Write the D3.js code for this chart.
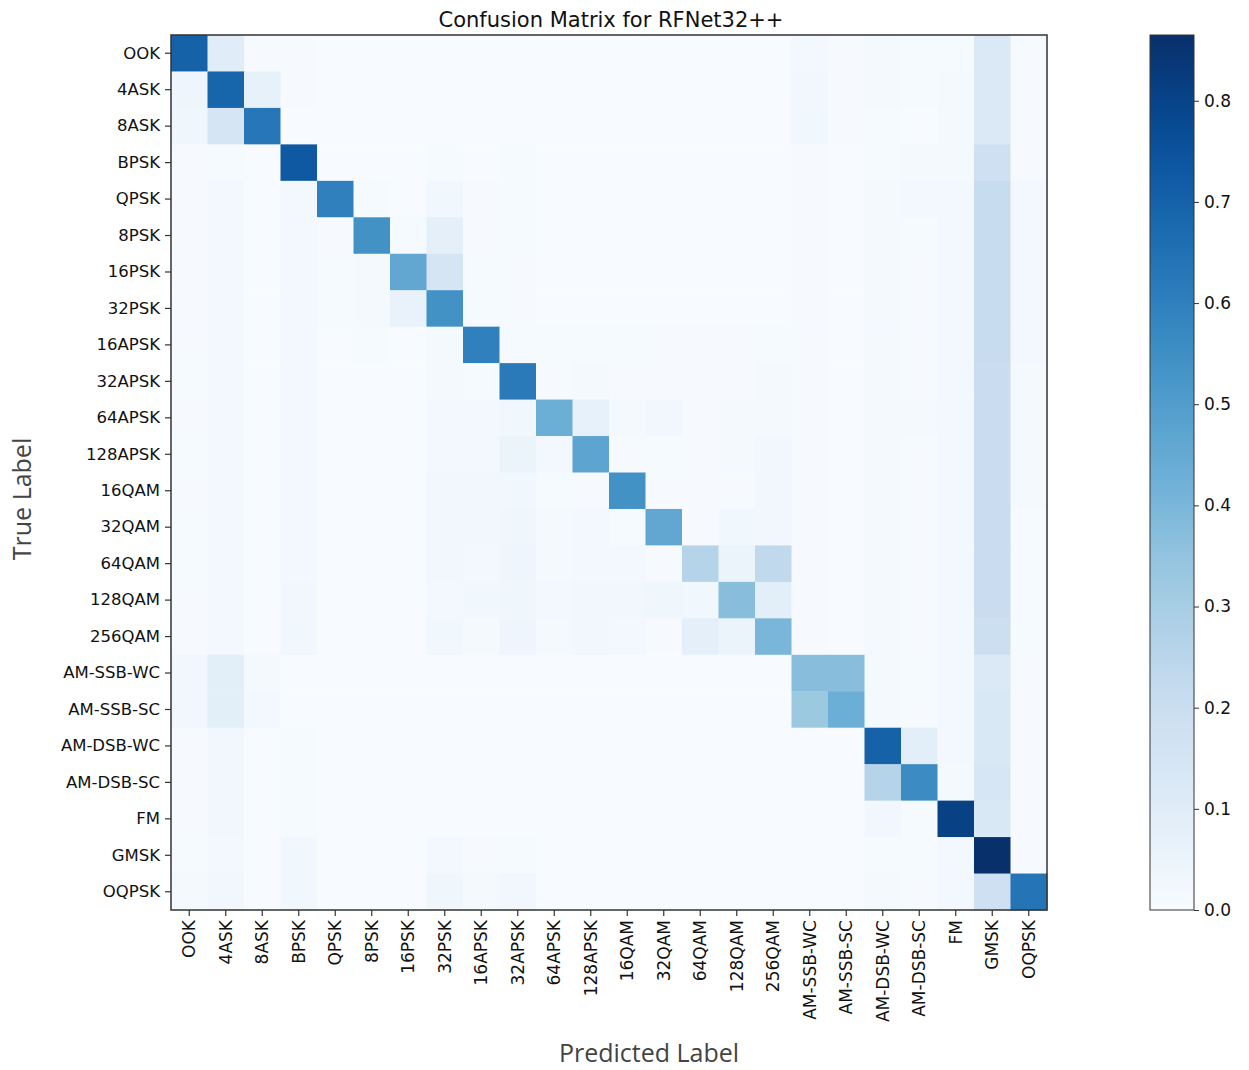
<!DOCTYPE html>
<html>
<head>
<meta charset="utf-8">
<script src="https://cdn.jsdelivr.net/npm/d3@7"></script>
<style>
  body { margin: 0; background: #fff; }
  .tick text { font-family: "DejaVu Sans", sans-serif; }
</style>
</head>
<body>
<div id="chart"></div>
<script>
// class names, same order on both axes
const labels = ['OOK', '4ASK', '8ASK', 'BPSK', 'QPSK', '8PSK', '16PSK', '32PSK', '16APSK', '32APSK',
  '64APSK', '128APSK', '16QAM', '32QAM', '64QAM', '128QAM', '256QAM', 'AM-SSB-WC', 'AM-SSB-SC',
  'AM-DSB-WC', 'AM-DSB-SC', 'FM', 'GMSK', 'OQPSK'];

// rows = true label, columns = predicted label
const matrix = [
  [0.70, 0.10, 0.005, 0.005, 0, 0, 0, 0, 0, 0, 0, 0, 0, 0, 0, 0, 0, 0.02, 0.005, 0.015, 0.01, 0.01, 0.12, 0.005],
  [0.04, 0.69, 0.07, 0.005, 0, 0, 0, 0, 0, 0, 0, 0, 0, 0, 0, 0, 0, 0.025, 0.005, 0.015, 0.01, 0.015, 0.12, 0.005],
  [0.035, 0.15, 0.63, 0, 0, 0, 0, 0, 0, 0, 0, 0, 0, 0, 0, 0, 0, 0.03, 0.005, 0.01, 0, 0.015, 0.12, 0.005],
  [0.005, 0.01, 0, 0.73, 0, 0, 0, 0.01, 0, 0.01, 0, 0, 0, 0, 0, 0, 0, 0.005, 0, 0.01, 0.015, 0.015, 0.18, 0.005],
  [0.005, 0.02, 0, 0.02, 0.60, 0.01, 0, 0.03, 0.005, 0.01, 0, 0, 0, 0, 0, 0, 0, 0.005, 0, 0.015, 0.02, 0.02, 0.21, 0.02],
  [0.005, 0.02, 0, 0.02, 0.005, 0.54, 0.01, 0.08, 0.005, 0.01, 0, 0, 0, 0, 0, 0, 0, 0.005, 0, 0.015, 0.01, 0.02, 0.21, 0.02],
  [0.005, 0.02, 0, 0.02, 0.01, 0.015, 0.46, 0.15, 0.01, 0.005, 0, 0, 0, 0, 0, 0, 0, 0.005, 0, 0.015, 0.005, 0.02, 0.21, 0.02],
  [0.005, 0.02, 0, 0.02, 0.01, 0.015, 0.06, 0.54, 0.01, 0.005, 0, 0, 0, 0, 0, 0, 0, 0.005, 0, 0.015, 0.005, 0.02, 0.21, 0.02],
  [0.005, 0.02, 0, 0.02, 0, 0.01, 0, 0.015, 0.60, 0.01, 0.01, 0.01, 0.01, 0.005, 0.005, 0.005, 0.01, 0.005, 0, 0.015, 0.005, 0.02, 0.21, 0.02],
  [0.01, 0.02, 0, 0.02, 0, 0, 0, 0.015, 0.01, 0.62, 0.005, 0.015, 0.005, 0.005, 0.005, 0.005, 0.015, 0.005, 0, 0.015, 0.005, 0.02, 0.20, 0.015],
  [0.005, 0.02, 0, 0.02, 0, 0, 0, 0.02, 0.02, 0.03, 0.43, 0.07, 0.015, 0.025, 0.005, 0.015, 0.015, 0.005, 0, 0.015, 0.015, 0.02, 0.20, 0.015],
  [0.01, 0.02, 0, 0.02, 0, 0, 0, 0.02, 0.02, 0.05, 0.02, 0.47, 0.005, 0.01, 0.005, 0.015, 0.025, 0.005, 0, 0.015, 0.005, 0.02, 0.20, 0.015],
  [0.005, 0.02, 0, 0.02, 0, 0, 0, 0.025, 0.025, 0.03, 0.01, 0.005, 0.54, 0.005, 0.005, 0.005, 0.025, 0.005, 0, 0.015, 0.005, 0.02, 0.20, 0.015],
  [0.01, 0.02, 0, 0.02, 0, 0, 0, 0.025, 0.025, 0.035, 0.015, 0.02, 0.01, 0.46, 0.005, 0.03, 0.025, 0.005, 0, 0.015, 0.005, 0.02, 0.20, 0.01],
  [0.01, 0.02, 0, 0.02, 0, 0, 0, 0.025, 0.02, 0.04, 0.015, 0.02, 0.02, 0.005, 0.26, 0.05, 0.23, 0.005, 0, 0.015, 0.005, 0.02, 0.20, 0.01],
  [0.005, 0.02, 0, 0.025, 0, 0, 0, 0.02, 0.03, 0.035, 0.02, 0.025, 0.025, 0.035, 0.03, 0.37, 0.09, 0.005, 0, 0.015, 0.005, 0.02, 0.20, 0.01],
  [0.005, 0.02, 0, 0.03, 0, 0, 0, 0.03, 0.015, 0.04, 0.015, 0.025, 0.02, 0.005, 0.08, 0.05, 0.40, 0.005, 0, 0.015, 0.005, 0.02, 0.19, 0.01],
  [0.025, 0.09, 0.015, 0, 0, 0, 0, 0, 0, 0, 0, 0, 0, 0, 0, 0, 0, 0.37, 0.37, 0.015, 0.01, 0.02, 0.12, 0.005],
  [0.025, 0.09, 0.02, 0, 0, 0, 0, 0, 0, 0, 0, 0, 0, 0, 0, 0, 0, 0.33, 0.43, 0.015, 0.005, 0.02, 0.13, 0.005],
  [0.005, 0.025, 0, 0.01, 0, 0, 0, 0, 0, 0, 0, 0, 0, 0, 0, 0, 0, 0, 0, 0.70, 0.09, 0.02, 0.13, 0.005],
  [0.005, 0.025, 0, 0.01, 0, 0, 0, 0, 0, 0, 0, 0, 0, 0, 0, 0, 0, 0, 0, 0.26, 0.56, 0.015, 0.14, 0.005],
  [0.005, 0.025, 0, 0.01, 0, 0, 0, 0, 0, 0, 0, 0, 0, 0, 0, 0, 0, 0, 0, 0.025, 0.01, 0.81, 0.13, 0.005],
  [0.01, 0.02, 0, 0.03, 0, 0, 0, 0.02, 0.005, 0.01, 0, 0, 0, 0, 0, 0, 0, 0, 0, 0.01, 0.01, 0.02, 0.865, 0.005],
  [0.015, 0.025, 0, 0.03, 0, 0, 0, 0.035, 0.015, 0.025, 0, 0, 0, 0, 0, 0, 0, 0, 0, 0.015, 0.005, 0.02, 0.18, 0.64]
];

const colorTicks = [0, 0.1, 0.2, 0.3, 0.4, 0.5, 0.6, 0.7, 0.8];
const vmax = 0.865;

// matplotlib "Blues" stops, interpolated linearly like the original colormap
const blues = ['#f7fbff', '#deebf7', '#c6dbef', '#9ecae1', '#6baed6', '#4292c6', '#2171b5', '#08519c', '#08306b'];

const width = 1249, height = 1070;
const plot = { left: 171, top: 35, right: 1047, bottom: 910 };
const bar = { left: 1150, width: 44 };

const svg = d3.select('#chart').append('svg')
  .attr('width', width)
  .attr('height', height);

const x = d3.scaleBand().domain(labels).range([plot.left, plot.right]);
const y = d3.scaleBand().domain(labels).range([plot.top, plot.bottom]);
const color = d3.scaleSequential(d3.piecewise(d3.interpolateRgb, blues)).domain([0, vmax]);

// cells
const cells = [];
matrix.forEach((row, i) => row.forEach((v, j) => cells.push({ t: labels[i], p: labels[j], v: v })));

svg.append('g').selectAll('rect')
  .data(cells)
  .enter().append('rect')
  .attr('x', d => x(d.p))
  .attr('y', d => y(d.t))
  .attr('width', x.bandwidth() + 0.5)
  .attr('height', y.bandwidth() + 0.5)
  .attr('fill', d => color(d.v));

// frame
svg.append('rect')
  .attr('x', plot.left).attr('y', plot.top)
  .attr('width', plot.right - plot.left).attr('height', plot.bottom - plot.top)
  .attr('fill', 'none').attr('stroke', '#333').attr('stroke-width', 1.5);

// axes
const xAxis = svg.append('g')
  .attr('transform', `translate(0,${plot.bottom})`)
  .call(d3.axisBottom(x).tickSize(6).tickPadding(4));
xAxis.selectAll('text')
  .attr('transform', 'rotate(-90)')
  .attr('text-anchor', 'end')
  .attr('x', -10).attr('y', 0).attr('dy', '0.35em')
  .style('font-size', '17px').attr('fill', '#111');

const yAxis = svg.append('g')
  .attr('transform', `translate(${plot.left},0)`)
  .call(d3.axisLeft(y).tickSize(6).tickPadding(5));
yAxis.selectAll('text').style('font-size', '16.5px').attr('fill', '#111');

[xAxis, yAxis].forEach(a => {
  a.select('.domain').remove();
  a.selectAll('line').attr('stroke', '#333').attr('stroke-width', 1.2);
});

// title and axis labels
svg.append('text')
  .attr('x', (plot.left + plot.right) / 2 + 2).attr('y', 27)
  .attr('text-anchor', 'middle')
  .style('font-family', '"DejaVu Sans", sans-serif').style('font-size', '21px')
  .attr('fill', '#111')
  .text('Confusion Matrix for RFNet32++');

svg.append('text')
  .attr('transform', `translate(31,499) rotate(-90)`)
  .attr('text-anchor', 'middle')
  .style('font-family', '"Open Sans", sans-serif').style('font-size', '25px')
  .attr('fill', '#444')
  .text('True Label');

svg.append('text')
  .attr('x', 649).attr('y', 1062)
  .attr('text-anchor', 'middle')
  .style('font-family', '"Open Sans", sans-serif').style('font-size', '25px')
  .attr('fill', '#444')
  .text('Predicted Label');

// colorbar
const cy = d3.scaleLinear().domain([0, vmax]).range([plot.bottom, plot.top]);
const grad = svg.append('defs').append('linearGradient')
  .attr('id', 'cbar').attr('x1', 0).attr('y1', 1).attr('x2', 0).attr('y2', 0);
d3.range(0, 1.0001, 0.05).forEach(t => {
  grad.append('stop').attr('offset', t).attr('stop-color', color(t * vmax));
});
svg.append('rect')
  .attr('x', bar.left).attr('y', plot.top)
  .attr('width', bar.width).attr('height', plot.bottom - plot.top)
  .attr('fill', 'url(#cbar)').attr('stroke', '#333').attr('stroke-width', 1);

const cAxis = svg.append('g')
  .attr('transform', `translate(${bar.left + bar.width},0)`)
  .call(d3.axisRight(cy).tickValues(colorTicks).tickFormat(d3.format('.1f')).tickSize(5).tickPadding(5));
cAxis.select('.domain').remove();
cAxis.selectAll('line').attr('stroke', '#333');
cAxis.selectAll('text').style('font-size', '17px').attr('fill', '#111');
</script>
</body>
</html>
